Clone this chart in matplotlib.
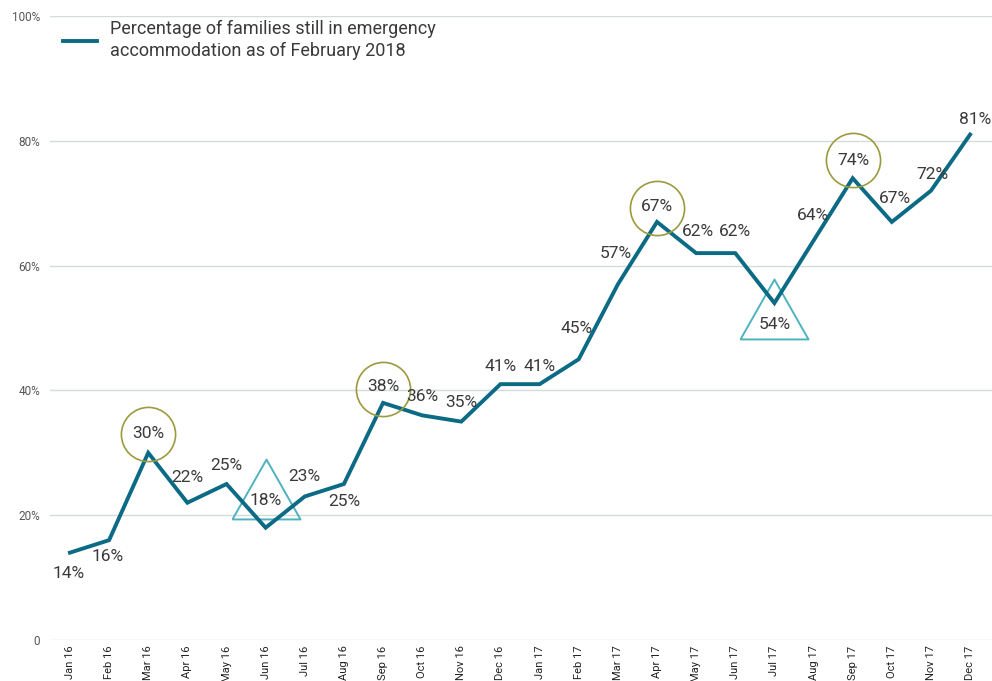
import matplotlib
matplotlib.use("Agg")
import matplotlib.pyplot as plt
from matplotlib.transforms import offset_copy
from matplotlib.path import Path

# datos
meses = ["Jan 16", "Feb 16", "Mar 16", "Apr 16", "May 16", "Jun 16", "Jul 16", "Aug 16",
         "Sep 16", "Oct 16", "Nov 16", "Dec 16", "Jan 17", "Feb 17", "Mar 17", "Apr 17",
         "May 17", "Jun 17", "Jul 17", "Aug 17", "Sep 17", "Oct 17", "Nov 17", "Dec 17"]
valores = [14, 16, 30, 22, 25, 18, 23, 25, 38, 36, 35, 41, 41, 45, 57, 67,
           62, 62, 54, 64, 74, 67, 72, 81]
y_ticks = [0, 20, 40, 60, 80, 100]
y_labels = ["0", "20%", "40%", "60%", "80%", "100%"]
picos = ["Mar 16", "Sep 16", "Apr 17", "Sep 17"]
valles = ["Jun 16", "Jul 17"]

# desplazamiento de cada etiqueta (pixeles)
desp = [(-1, -21), (-1, -16), (0, 19), (0, 25), (0, 19), (0, 27), (0, 20), (0, -17),
        (0, 16), (0, 19), (0, 19), (0, 18), (0, 18), (-2, 31), (-2, 31), (0, 15),
        (2, 22), (0, 22), (0, -21), (-1, 25), (1, 18), (3, 23), (1, 16), (5, 15)]
desp_circulo = {"Mar 16": 19, "Sep 16": 14, "Apr 17": 14, "Sep 17": 18}
desp_triangulo = {"Jun 16": 39, "Jul 17": -6}

azul = "#0b6a84"
oliva = "#9c9a3e"
turquesa = "#4fb3bd"
texto = "#3a3a3a"

plt.rcParams["font.family"] = ["Roboto", "DejaVu Sans"]

fig = plt.figure(figsize=(9.92, 6.81), dpi=100)
ax = fig.add_axes([0.0504, 0.0602, 0.9496, 0.9163])

x = list(range(len(meses)))
ax.plot(x, valores, color=azul, lw=2.8, solid_joinstyle="miter", zorder=3,
        label="Percentage of families still in emergency\naccommodation as of February 2018")

for i, v in enumerate(valores):
    dx, dy = desp[i]
    ax.annotate(f"{v}%", (i, v), xytext=(dx, dy), textcoords="offset pixels",
                ha="center", va="center", fontsize=12.5, color=texto, zorder=5)

for m in picos:
    i = meses.index(m)
    tr = offset_copy(ax.transData, fig=fig, x=0, y=desp_circulo[m], units="dots")
    ax.plot(i, valores[i], marker="o", ms=39, mfc="none", mec=oliva, mew=1.2,
            transform=tr, zorder=4)

tri = Path([(-1, -0.88), (1, -0.88), (0, 0.88), (-1, -0.88)])
for m in valles:
    i = meses.index(m)
    tr = offset_copy(ax.transData, fig=fig, x=0, y=desp_triangulo[m], units="dots")
    ax.plot(i, valores[i], marker=tri, ms=49, mfc="none", mec=turquesa, mew=1.4,
            transform=tr, zorder=2)

ax.set_xlim(-0.51, 23.56)
ax.set_ylim(0, 100)
ax.set_yticks(y_ticks)
ax.set_yticklabels(y_labels)
ax.set_xticks(x)
ax.set_xticklabels(meses, rotation=90)
ax.tick_params(axis="y", length=0, pad=7, labelsize=8.5, labelcolor="#555555")
ax.tick_params(axis="x", length=0, pad=4, labelsize=8, labelcolor="#222222")
ax.grid(axis="y", color="#d5dada", lw=1)
ax.set_axisbelow(True)
for s in ax.spines.values():
    s.set_visible(False)

leg = ax.legend(loc="upper left", bbox_to_anchor=(63 / 992, 1 - 20 / 681),
                bbox_transform=fig.transFigure, frameon=False, fontsize=13,
                handlelength=1.9, handletextpad=0.72, borderpad=0, borderaxespad=0)
for t in leg.get_texts():
    t.set_color(texto)
    t.set_linespacing(1.3)

plt.savefig("out.png", dpi=100)
